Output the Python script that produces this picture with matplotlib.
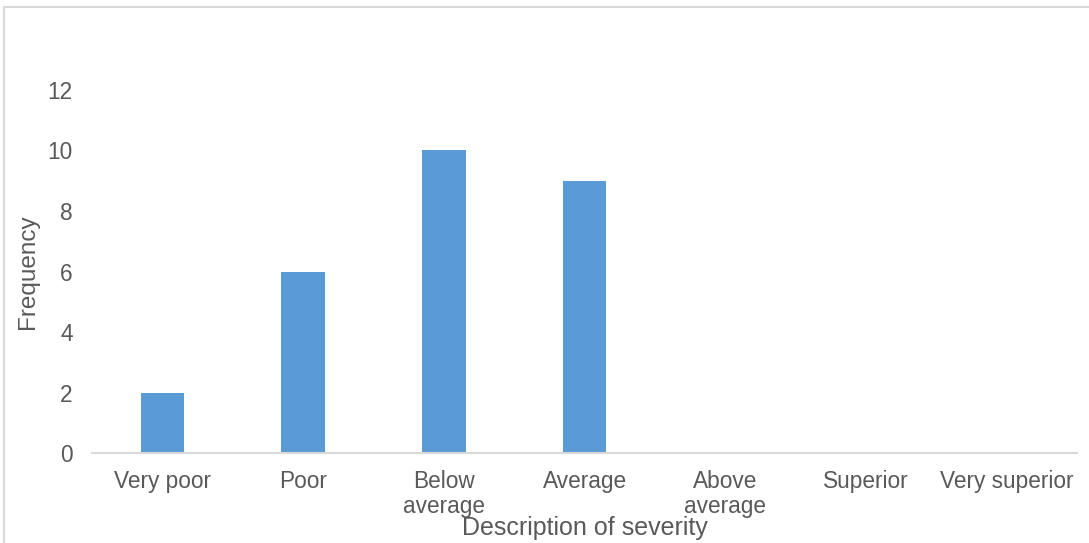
import matplotlib
matplotlib.use("Agg")
import matplotlib.pyplot as plt
from matplotlib.patches import Rectangle

plt.rcParams['font.family'] = ['Liberation Sans', 'DejaVu Sans']

categories = ["Very poor", "Poor", "Below\naverage", "Average",
              "Above\naverage", "Superior", "Very superior"]
frequency = [2, 6, 10, 9, 0, 0, 0]

text_grey = "#595959"
line_grey = "#D9D9D9"
bar_blue = "#5B9BD5"

fig = plt.figure(figsize=(10.89, 5.43), dpi=100)
ax = fig.add_axes([0.0845, 0.1657, 0.9045, 0.78])

x = range(len(categories))
ax.bar(x, frequency, width=0.31, color=bar_blue, zorder=2)

ax.set_xlim(-0.5, len(categories) - 0.5)
ax.set_ylim(0, 14)
ax.set_yticks(range(0, 13, 2))
ax.set_xticks(list(x))
ax.set_xticklabels(categories, linespacing=1.15)

for side in ("top", "right", "left"):
    ax.spines[side].set_visible(False)
ax.spines["bottom"].set_color(line_grey)
ax.spines["bottom"].set_linewidth(1.5)

ax.tick_params(axis="both", length=0, labelsize=16.3, colors=text_grey)
ax.tick_params(axis="x", pad=12)
ax.tick_params(axis="y", pad=14)

fig.text(0.537, 0.027, "Description of severity", ha="center", va="center",
         fontsize=18, color=text_grey)
fig.text(0.026, 0.499, "Frequency", ha="center", va="center", rotation=90,
         fontsize=17.5, color=text_grey)

# light frame around the chart area
fig.patches.append(Rectangle((4 / 1089, -0.05), 1.1, 1 - 7 / 543 + 0.05,
                             transform=fig.transFigure, fill=False,
                             edgecolor=line_grey, linewidth=1.5))

fig.savefig("out.png", dpi=100)
